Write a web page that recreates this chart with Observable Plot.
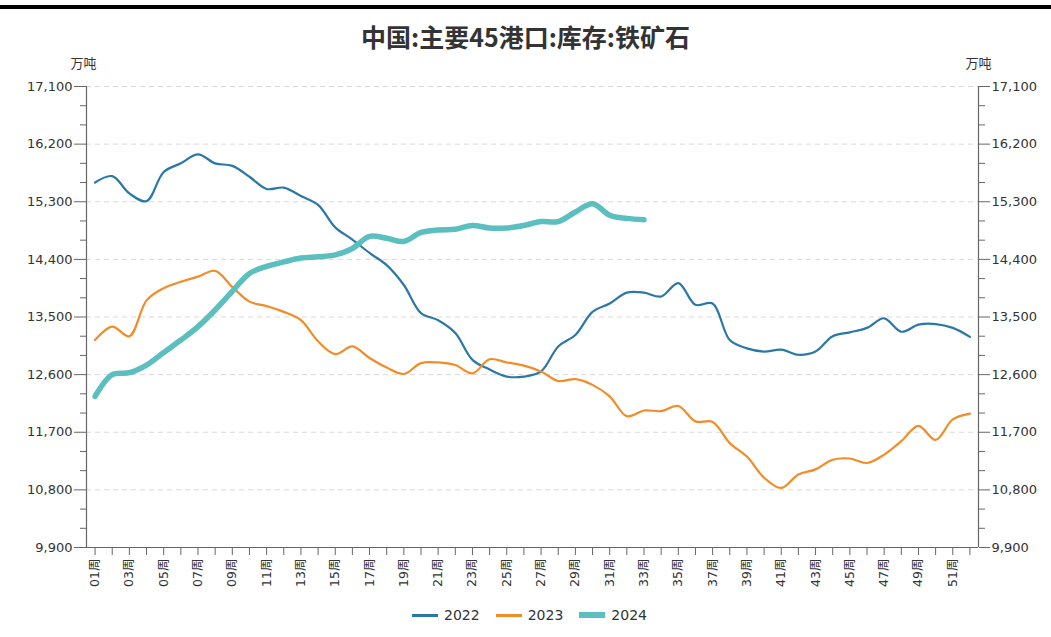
<!DOCTYPE html>
<html>
<head>
<meta charset="utf-8">
<script src="https://cdn.jsdelivr.net/npm/d3@7"></script>
<script src="https://cdn.jsdelivr.net/npm/@observablehq/plot@0.6"></script>
<style>
  html, body { margin: 0; padding: 0; background: #fff; }
  #wrap { width: 1051px; height: 637px; overflow: hidden; font-family: "DejaVu Sans", "Noto Sans CJK SC", sans-serif; }
  #topbar { margin-top: 5px; height: 4px; background: #000; }
  #title { padding-top: 14px; height: 26px; line-height: 26px; text-align: center; font-family: "Noto Sans CJK SC", sans-serif; font-weight: bold; font-size: 25px; color: #333; }
  #chart { height: 551px; }
  #legend { height: 30px; display: flex; justify-content: center; align-items: center; font-size: 14px; color: #333; padding-left: 8px; }
  .item { display: flex; align-items: center; margin: 0 8px; }
  .sw { display: inline-block; width: 26px; margin-right: 6px; }
</style>
</head>
<body>
<div id="wrap">
  <div id="topbar"></div>
  <div id="title">中国:主要45港口:库存:铁矿石</div>
  <div id="chart"></div>
  <div id="legend"></div>
</div>
<script>
const weekLabels = ["01周","02周","03周","04周","05周","06周","07周","08周","09周","10周",
  "11周","12周","13周","14周","15周","16周","17周","18周","19周","20周",
  "21周","22周","23周","24周","25周","26周","27周","28周","29周","30周",
  "31周","32周","33周","34周","35周","36周","37周","38周","39周","40周",
  "41周","42周","43周","44周","45周","46周","47周","48周","49周","50周",
  "51周","52周"];

const v2022 = [15600,15700,15430,15310,15765,15900,16040,15900,15860,15690,
  15500,15520,15390,15250,14900,14710,14500,14310,14000,13560,
  13450,13250,12830,12680,12570,12570,12650,13040,13220,13580,
  13710,13880,13880,13820,14030,13690,13710,13140,13010,12960,
  12990,12910,12960,13200,13260,13330,13480,13270,13380,13390,
  13330,13190];

const v2023 = [13140,13350,13200,13760,13950,14050,14130,14220,13970,13740,
  13670,13580,13450,13120,12920,13040,12860,12710,12610,12780,
  12790,12750,12620,12840,12790,12740,12650,12500,12530,12440,
  12260,11950,12040,12030,12110,11870,11860,11530,11320,10990,
  10830,11040,11120,11270,11290,11220,11350,11560,11800,11580,
  11900,11990];

const v2024 = [12260,12600,12630,12750,12945,13140,13350,13610,13900,14180,
  14290,14360,14420,14440,14470,14570,14760,14730,14680,14820,
  14860,14870,14930,14890,14890,14930,14990,14990,15140,15270,
  15090,15040,15020];

const seriesNames = ["2022","2023","2024"];
const seriesColors = ["#2a78a6","#f28c28","#5bbfbf"];
const seriesWidths = [2.2, 2.2, 5.5];
const seriesValues = [v2022, v2023, v2024];

const yMajor = [9900,10800,11700,12600,13500,14400,15300,16200,17100];
const yUnit = "万吨";

const yMinor = d3.range(9900, 17101, 300).filter(v => !yMajor.includes(v));
const weekNums = weekLabels.map((d, i) => i + 1);

const rows = seriesValues.map((vals, s) =>
  vals.map((v, i) => ({week: i + 1, value: v, year: seriesNames[s]})));

const fmt = d3.format(",");
const oddLabel = d => (d % 2 === 1 ? weekLabels[d - 1] : "");

const marks = [
  Plot.gridY(yMajor, {stroke: "#d9d9d9", strokeOpacity: 1, strokeDasharray: "5,4"}),
  ...rows.map((data, s) => Plot.line(data, {
    x: "week", y: "value", stroke: seriesColors[s], strokeWidth: seriesWidths[s], curve: "catmull-rom"
  })),
  Plot.ruleY([9900], {stroke: "#666", strokeWidth: 1.2}),
  Plot.ruleX([0.5, 52.5], {stroke: "#666", strokeWidth: 1.2}),
  Plot.axisY({anchor: "left", ticks: yMajor, tickSize: 12, tickPadding: 2, tickFormat: fmt, stroke: "#666", fill: "#333", fontSize: 13, label: null}),
  Plot.axisY({anchor: "left", ticks: yMinor, tickSize: 6, tickFormat: () => "", stroke: "#666", label: null}),
  Plot.axisY({anchor: "right", ticks: yMajor, tickSize: 11, tickPadding: 2, tickFormat: fmt, stroke: "#666", fill: "#333", fontSize: 13, label: null}),
  Plot.axisY({anchor: "right", ticks: yMinor, tickSize: 6, tickFormat: () => "", stroke: "#666", label: null}),
  Plot.axisX({ticks: weekNums, tickSize: 8, tickPadding: 3, tickRotate: -90, tickFormat: oddLabel, stroke: "#666", fill: "#333", fontSize: 12.5, label: null}),
  Plot.text([yUnit], {frameAnchor: "top-left", dx: -3, dy: -28, text: d => d, fontSize: 13, fill: "#333", textAnchor: "middle"}),
  Plot.text([yUnit], {frameAnchor: "top-right", dx: 0, dy: -28, text: d => d, fontSize: 13, fill: "#333", textAnchor: "middle"})
];

const chart = Plot.plot({
  width: 1051,
  height: 551,
  marginLeft: 86,
  marginRight: 73,
  marginTop: 37,
  marginBottom: 53,
  x: {type: "linear", domain: [0.5, 52.5]},
  y: {domain: [9900, 17100]},
  style: {fontFamily: "DejaVu Sans, Noto Sans CJK SC, sans-serif", fontSize: "13px", color: "#333", background: "#fff"},
  marks
});
document.getElementById("chart").appendChild(chart);

const legend = document.getElementById("legend");
seriesNames.forEach((name, s) => {
  const item = document.createElement("span");
  item.className = "item";
  const sw = document.createElement("span");
  sw.className = "sw";
  sw.style.height = (s === 2 ? 6 : 3) + "px";
  sw.style.background = seriesColors[s];
  const t = document.createElement("span");
  t.textContent = name;
  item.appendChild(sw);
  item.appendChild(t);
  legend.appendChild(item);
});
</script>
</body>
</html>
